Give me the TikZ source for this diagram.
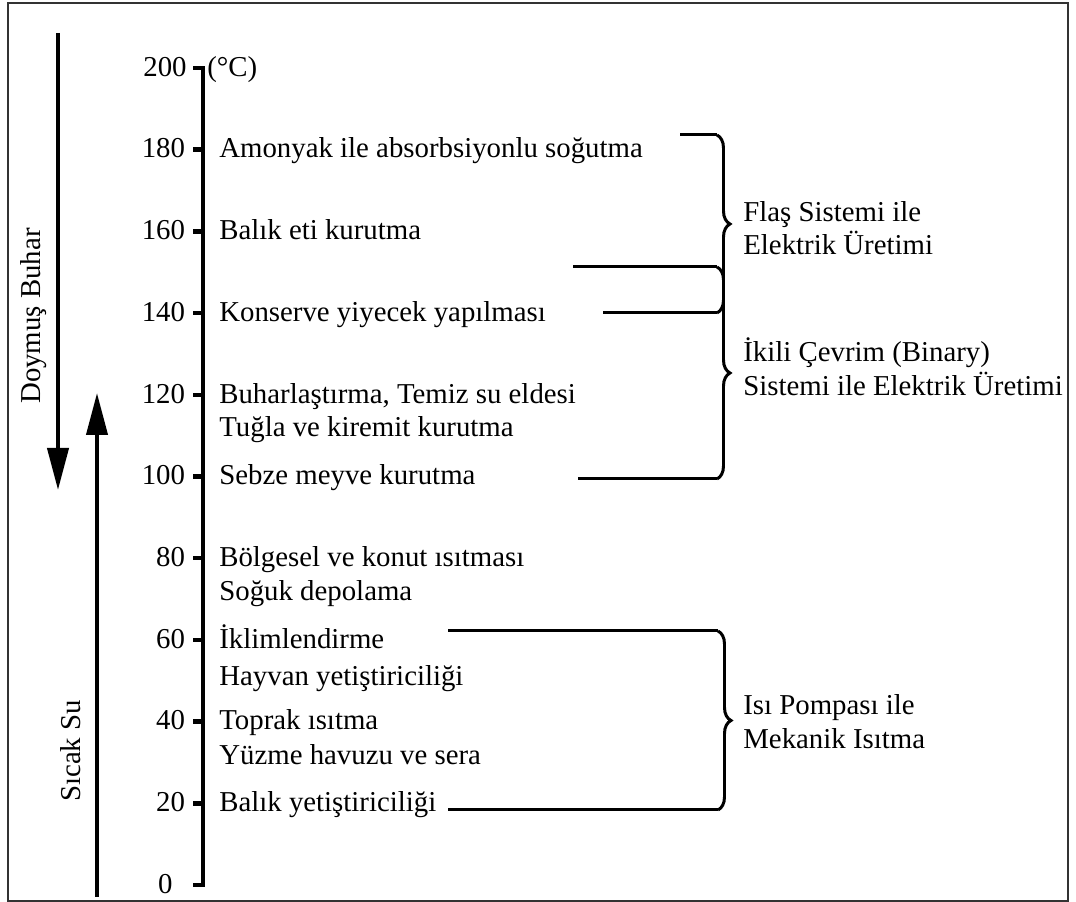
\documentclass[tikz,border=0pt]{standalone}
\usepackage{fontspec}
\setmainfont{Liberation Serif}
\usetikzlibrary{arrows.meta,decorations.pathreplacing}

\begin{document}
\begin{tikzpicture}[>={Triangle[length=0.84cm,width=0.42cm]},
  font=\fontsize{16.4}{20}\selectfont,
  axis/.style={line width=2.3pt},
  bline/.style={line width=1.7pt},
  brc/.style={bline,decorate,decoration={brace,amplitude=0.26cm}},
  num/.style={anchor=base east,inner sep=0pt,xshift=-0.12cm,yshift=-0.17cm},
  lbl/.style={anchor=base west,inner sep=0pt,yshift=-0.17cm},
  side/.style={rotate=90,anchor=base,inner sep=0pt}]
\useasboundingbox (0,0) rectangle (21.52,18.04);
\draw[black!80,line width=0.8pt] (0.16,0.02) rectangle (21.36,17.98);
\draw[axis] (3.86,16.68) -- (4.06,16.68) -- (4.06,0.34) -- (3.86,0.34);
\node[num] (n200) at (3.86,16.68) {200};
\node[lbl] (unit) at (4.14,16.68) {(°C)};
\draw[axis] (4.06,15.05) -- (3.86,15.05) node[num] (n180) {180};
\draw[axis] (4.06,13.41) -- (3.86,13.41) node[num] (n160) {160};
\draw[axis] (4.06,11.78) -- (3.86,11.78) node[num] (n140) {140};
\draw[axis] (4.06,10.14) -- (3.86,10.14) node[num] (n120) {120};
\draw[axis] (4.06,8.51) -- (3.86,8.51) node[num] (n100) {100};
\draw[axis] (4.06,6.88) -- (3.86,6.88) node[num] (n80) {80};
\draw[axis] (4.06,5.24) -- (3.86,5.24) node[num] (n60) {60};
\draw[axis] (4.06,3.61) -- (3.86,3.61) node[num] (n40) {40};
\draw[axis] (4.06,1.97) -- (3.86,1.97) node[num] (n20) {20};
\node[num] (n0) at (3.58,0.34) {0};
\node[lbl] (u180) at (4.38,15.05) {Amonyak ile absorbsiyonlu soğutma};
\node[lbl] (u160) at (4.38,13.41) {Balık eti kurutma};
\node[lbl] (u140) at (4.38,11.78) {Konserve yiyecek yapılması};
\node[lbl] (u120a) at (4.38,10.14) {Buharlaştırma, Temiz su eldesi};
\node[lbl] (u120b) at (4.38,9.47) {Tuğla ve kiremit kurutma};
\node[lbl] (u100) at (4.38,8.51) {Sebze meyve kurutma};
\node[lbl] (u80a) at (4.38,6.88) {Bölgesel ve konut ısıtması};
\node[lbl] (u80b) at (4.38,6.19) {Soğuk depolama};
\node[lbl] (u60a) at (4.38,5.24) {İklimlendirme};
\node[lbl] (u60b) at (4.38,4.49) {Hayvan yetiştiriciliği};
\node[lbl] (u40a) at (4.38,3.61) {Toprak ısıtma};
\node[lbl] (u40b) at (4.38,2.91) {Yüzme havuzu ve sera};
\node[lbl] (u20) at (4.38,1.97) {Balık yetiştiriciliği};
\coordinate (fa) at (13.6,15.34);
\coordinate (ft) at (14.34,15.34);
\coordinate (fb) at (14.34,11.78);
\coordinate (fc) at (12.06,11.78);
\draw[bline] (fa) -- (ft) (fb) -- (fc);
\draw[brc] (ft) -- (fb);
\coordinate (ia) at (11.46,12.7);
\coordinate (it) at (14.34,12.7);
\coordinate (ib) at (14.34,8.46);
\coordinate (ic) at (11.56,8.46);
\draw[bline] (ia) -- (it) (ib) -- (ic);
\draw[brc] (it) -- (ib);
\coordinate (pa) at (8.96,5.42);
\coordinate (pt) at (14.36,5.42);
\coordinate (pb) at (14.36,1.84);
\coordinate (pc) at (8.96,1.84);
\draw[bline] (pa) -- (pt) (pb) -- (pc);
\draw[brc] (pt) -- (pb);
\node[lbl] (fl1) at (14.86,13.77) {Flaş Sistemi ile};
\node[lbl] (fl2) at (14.86,13.11) {Elektrik Üretimi};
\node[lbl] (bi1) at (14.86,10.97) {İkili Çevrim (Binary)};
\node[lbl] (bi2) at (14.86,10.29) {Sistemi ile Elektrik Üretimi};
\node[lbl] (hp1) at (14.86,3.91) {Isı Pompası ile};
\node[lbl] (hp2) at (14.86,3.23) {Mekanik Isıtma};
\node[side] (steam) at (0.8,11.72) {Doymuş Buhar};
\node[side] (water) at (1.6,3.02) {Sıcak Su};
\coordinate (s1) at (1.16,17.38);
\coordinate (s2) at (1.16,8.24);
\coordinate (w1) at (1.94,0.1);
\coordinate (w2) at (1.94,10.18);
\draw[axis,->] (s1) -- (s2);
\draw[axis,->] (w1) -- (w2);
\end{tikzpicture}
\end{document}
